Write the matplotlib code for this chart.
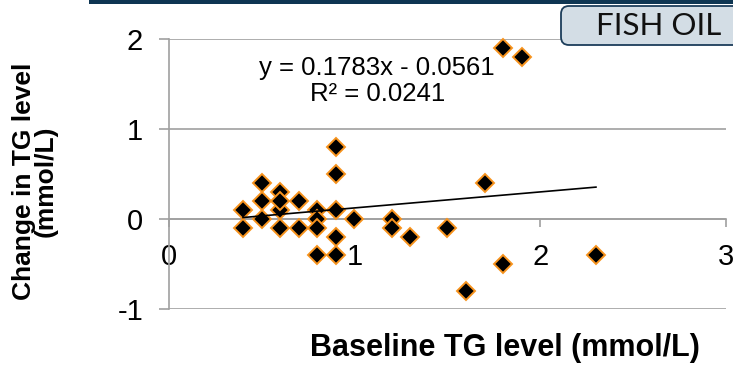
import matplotlib
matplotlib.use("Agg")
import matplotlib.pyplot as plt
from matplotlib.patches import FancyBboxPatch, Rectangle
from matplotlib.transforms import IdentityTransform
import numpy as np

# data
baseline_tg = [0.4, 0.4,
               0.5, 0.5, 0.5,
               0.6, 0.6, 0.6, 0.6,
               0.7, 0.7,
               0.8, 0.8, 0.8, 0.8,
               0.9, 0.9, 0.9, 0.9, 0.9,
               1.0, 1.2, 1.2, 1.3, 1.5, 1.6, 1.7,
               1.8, 1.8, 1.9, 2.3]
change_tg = [0.1, -0.1,
             0.4, 0.2, 0.0,
             0.3, 0.1, 0.2, -0.1,
             0.2, -0.1,
             0.1, 0.0, -0.1, -0.4,
             0.8, 0.5, 0.1, -0.2, -0.4,
             0.0, 0.0, -0.1, -0.2, -0.1, -0.8, 0.4,
             -0.5, 1.9, 1.8, -0.4]
slope = 0.1783
intercept = -0.0561
r_squared = 0.0241
x_ticks = [0, 1, 2, 3]
y_ticks = [-1, 0, 1, 2]

plt.rcParams['font.family'] = ['Liberation Sans', 'DejaVu Sans']

W, H = 733, 375
fig = plt.figure(figsize=(W / 100, H / 100), dpi=100)

# header bar + label box
fig.patches.append(Rectangle((89, H - 4), W - 89, 4, transform=IdentityTransform(),
                             facecolor='#0e3552', edgecolor='none'))
fig.patches.append(FancyBboxPatch((561, H - 45), 200, 39, transform=IdentityTransform(),
                                  boxstyle='round,pad=0,rounding_size=8',
                                  facecolor='#d3dde5', edgecolor='#1c3d5a', linewidth=1.3))
fig.text(659 / W, 1 - 26 / H, 'FISH OIL', family=['Lato', 'DejaVu Sans'], fontsize=22.5,
         ha='center', va='center', color='#111111')

ax = fig.add_axes([168.7 / W, 1 - 308.7 / H, (726 - 168.7) / W, (308.7 - 39.3) / H])
ax.set_xlim(0, 3)
ax.set_ylim(-1, 2)

grey = '#a0a0a0'
ax.spines['top'].set_visible(False)
ax.spines['right'].set_visible(False)
ax.spines['left'].set_color(grey)
ax.spines['bottom'].set_color(grey)
ax.spines['bottom'].set_position(('data', 0))
ax.spines['left'].set_linewidth(1.2)
ax.spines['bottom'].set_linewidth(1.2)

ax.set_yticks(y_ticks)
ax.set_xticks(x_ticks)
ax.set_xticklabels([str(v) for v in x_ticks])
ax.set_yticklabels([str(v) for v in y_ticks])
ax.yaxis.grid(True, color=grey, linewidth=1.2)
ax.set_axisbelow(True)
ax.tick_params(axis='y', length=7.5, width=1.2, color=grey, pad=11, labelsize=21)
ax.tick_params(axis='x', length=6, width=1.2, color=grey, pad=11, labelsize=21,
               direction='out')

ax.plot(baseline_tg, change_tg, linestyle='none', marker='D', markersize=9.5,
        markerfacecolor='black', markeredgecolor='#f7931e', markeredgewidth=1.4,
        clip_on=False, zorder=3)

xs = np.array([min(baseline_tg), max(baseline_tg)])
ax.plot(xs, slope * xs + intercept, color='black', linewidth=1.2, zorder=4)

ax.text(1.122, 1.537, 'y = %.4fx - %.4f\nR² = %.4f' % (slope, -intercept, r_squared),
        ha='center', va='center', fontsize=18.5, linespacing=1.1, zorder=5)

fig.text(505 / W, 1 - 348 / H, 'Baseline TG level (mmol/L)', fontsize=22,
         fontweight='bold', ha='center', va='center')
fig.text(35 / W, 1 - 181 / H, 'Change in TG level\n(mmol/L)', fontsize=19,
         fontweight='bold', ha='center', va='center', rotation=90,
         multialignment='center', linespacing=0.9)

fig.savefig('out.png', dpi=100)
